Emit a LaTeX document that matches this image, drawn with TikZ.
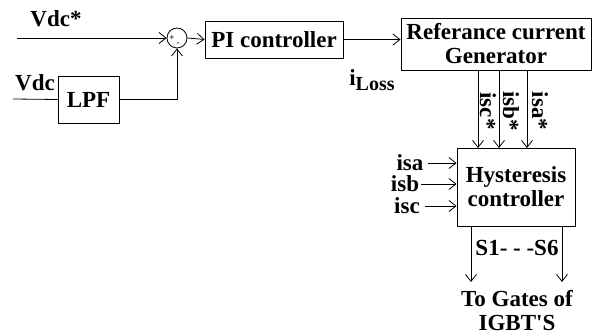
\documentclass[tikz,border=0pt]{standalone}
\usepackage{fontspec}
\setmainfont{Liberation Serif}
\usetikzlibrary{positioning, arrows.meta, calc}

\begin{document}
\begin{tikzpicture}[x=1pt, y=-1pt,
    font=\fontsize{23}{24}\selectfont\bfseries,
    blk/.style={draw, line width=0.9pt, minimum width=#1, inner sep=0pt, align=center},
    lbl/.style={inner sep=0pt},
    sig/.style={line width=0.8pt, -{Straight Barb[length=7pt, width=11pt]}},
    wire/.style={line width=0.8pt}]
  \useasboundingbox (0,0) rectangle (594,336);
  % blocks
  \node[blk=138pt, minimum height=37pt] (pi) at (274,39.5) {PI controller};
  \node[blk=61pt, minimum height=47pt] (lpf) at (88.5,99.5) {LPF};
  \node[blk=190pt, minimum height=52pt] (gen) at (496,44) {Referance current\\Generator};
  \node[blk=118pt, minimum height=78pt] (hyst) at (516,187) {Hysteresis\\controller};
  \node[draw, circle, line width=0.8pt, minimum size=20pt, inner sep=0pt] (sum) at (177,38) {};
  \node[lbl, font=\fontsize{9}{9}\selectfont\bfseries] at (172,38) {+};
  \node[lbl, font=\fontsize{9}{9}\selectfont\bfseries] at (178,44) {-};
  % inputs
  \coordinate (vref) at (17,38);
  \coordinate (vdc) at (13,99);
  \node[lbl] (vrefl) at (56,19) {Vdc*};
  \node[lbl] (vdcl) at (35,83) {Vdc};
  \draw[sig] (vref) -- (sum.west);
  \draw[wire] (vdc) -- (lpf.west);
  \draw[sig] (lpf.east) -| (sum.south);
  \draw[sig] (sum.east) -- (pi.west);
  \draw[sig] (pi.east) -- (pi.east -| gen.west);
  \node[lbl] (iloss) at (372,80) {i\raisebox{-0.45ex}{\fontsize{20}{22}\selectfont Loss}};
  % reference currents
  \foreach \x/\t/\lx in {478/isc*/488, 499/isb*/511, 527/isa*/540} {
    \draw[sig] (\x,70) -- (\x,148);
    \node[lbl, rotate=-90] at (\lx,111) {\t};
  }
  % measured currents
  \foreach \y/\t/\lx/\sx in {163/isa/410/428, 184/isb/405/421, 206/isc/407/425} {
    \node[lbl] at (\lx,\y) {\t};
    \draw[sig] (\sx,\y) -- (\sx,\y -| hyst.west);
  }
  % gate signals
  \coordinate (g1) at (471,282);
  \coordinate (g6) at (562,282);
  \draw[sig] (g1 |- hyst.south) -- (g1);
  \draw[sig] (g6 |- hyst.south) -- (g6);
  \node[lbl] (sw) at (517,248) {S1- - -S6};
  \node[lbl] (gates) at (517,299) {To Gates of};
  \node[lbl] (igbt) at (517,323) {IGBT\textquotesingle S};
\end{tikzpicture}
\end{document}
